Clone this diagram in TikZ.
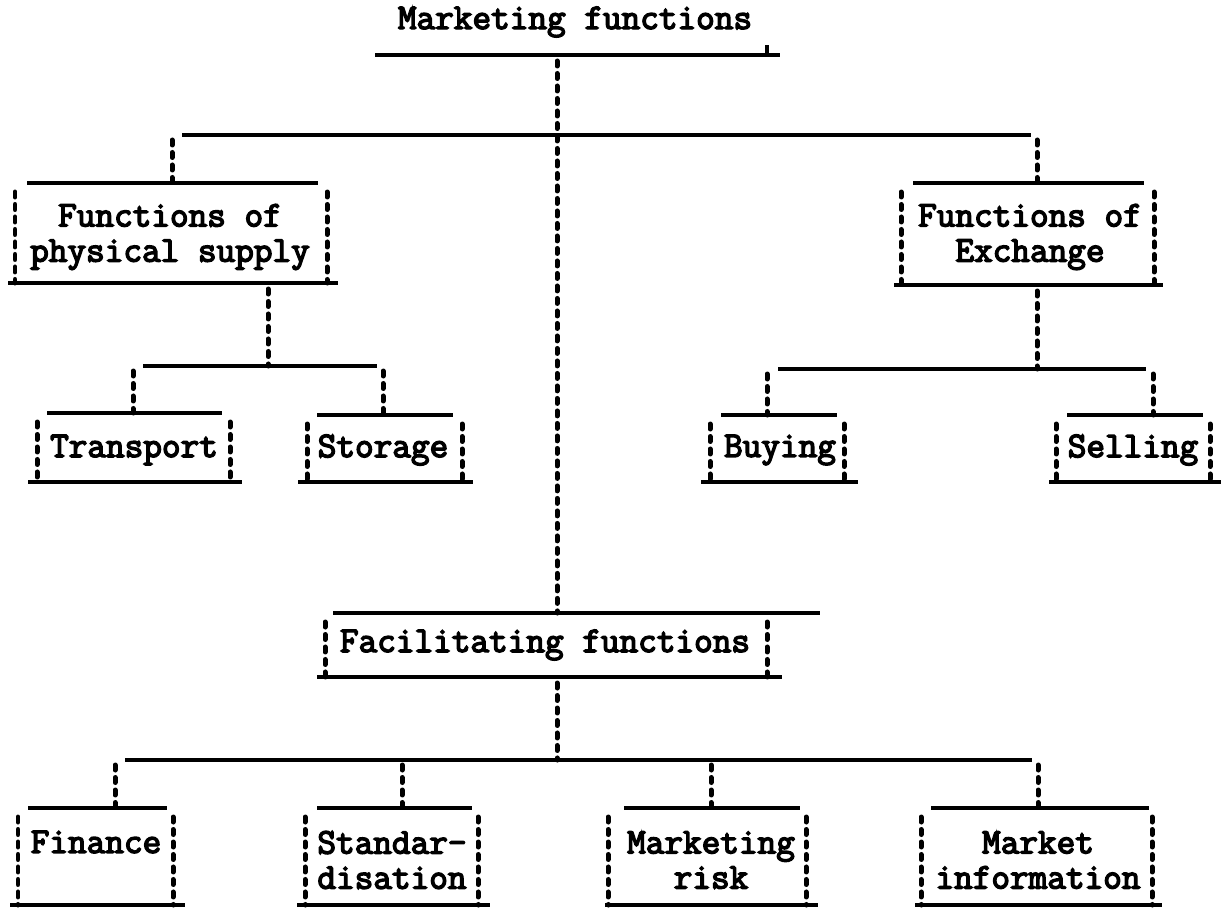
\documentclass[tikz,border=0pt]{standalone}
\usepackage{fontspec}
\newfontfamily\tw{Latin Modern Mono}[FakeBold=4]
\newcommand\twbox[9]{%
  \draw[rule] (#6,#4) -- (#7,#4);
  \draw[rule] (#8,#5) -- (#9,#5);
  \draw[tdash] (#2,#4+9) -- (#2,#5);
  \draw[tdash] (#3,#4+9) -- (#3,#5);
  \coordinate (#1-top) at ({(#6+#7)/2},#4);
  \coordinate (#1-bot) at ({(#8+#9)/2},#5);}
\begin{document}
\begin{tikzpicture}[x=0.02cm,y=-0.02cm,
  rule/.style={line width=0.085cm},
  tdash/.style={line width=0.1cm, line cap=round, dash pattern=on 0.1cm off 0.15cm},
  lbl/.style={font=\tw\fontsize{20.6}{20}\selectfont, align=center, inner sep=0pt}]
\useasboundingbox (0,0) rectangle (1221,909);

% title
\node[lbl] (title) at (575,22) {Marketing functions};
\draw[rule] (375,55) -- (780,55);
\draw[rule] (767,55) -- (767,45);

% boxes: name, L, R, T, B, topL, topR, botL, botR
\twbox{phys}{15}{327}{183}{283}{27}{318}{8}{338}
\twbox{exch}{901}{1154}{183}{285}{913}{1144}{894}{1163}
\twbox{trans}{37}{230}{413}{482}{47}{222}{28}{242}
\twbox{stor}{307}{462}{415}{482}{317}{453}{298}{473}
\twbox{buy}{710}{844}{415}{482}{721}{837}{701}{858}
\twbox{sell}{1056}{1210}{415}{482}{1067}{1203}{1049}{1221}
\twbox{facil}{325}{767}{613}{677}{333}{820}{317}{782}
\twbox{fin}{18}{173}{808}{905}{28}{167}{10}{185}
\twbox{std}{305}{478}{808}{905}{317}{472}{297}{490}
\twbox{risk}{608}{806}{808}{905}{624}{800}{605}{818}
\twbox{info}{921}{1152}{808}{905}{931}{1149}{915}{1162}

% labels
\node[lbl] (physT) at (170,237) {Functions of\\physical supply};
\node[lbl] (exchT) at (1030,237) {Functions of\\Exchange};
\node[lbl] (transT) at (134,450) {Transport};
\node[lbl] (storT) at (383,450) {Storage};
\node[lbl] (buyT) at (780,450) {Buying};
\node[lbl] (sellT) at (1133,450) {Selling};
\node[lbl] (facilT) at (545,645) {Facilitating functions};
\node[lbl] (finT) at (96,842) {Finance};
\node[lbl] (stdT) at (392,860) {Standar-\\disation};
\node[lbl] (riskT) at (711,860) {Marketing\\risk};
\node[lbl] (infoT) at (1038,860) {Market\\information};

% connector junctions
\coordinate (j0) at (557,61);
\coordinate (f0) at (557,613);
\coordinate (h1a) at (182,135); \coordinate (h1b) at (1031,135);
\coordinate (d1a) at (172,140); \coordinate (p1a) at (172,183);
\coordinate (d1b) at (1037,140); \coordinate (p1b) at (1037,183);

\coordinate (ps0) at (268,289); \coordinate (ps1) at (268,366);
\coordinate (h2a) at (143,366); \coordinate (h2b) at (377,366);
\coordinate (d2a) at (133,371); \coordinate (p2a) at (133,413);
\coordinate (d2b) at (383,371); \coordinate (p2b) at (383,415);

\coordinate (ex0) at (1037,291); \coordinate (ex1) at (1037,369);
\coordinate (h3a) at (778,369); \coordinate (h3b) at (1146,369);
\coordinate (d3a) at (767,374); \coordinate (p3a) at (767,415);
\coordinate (d3b) at (1153,374); \coordinate (p3b) at (1153,415);

\coordinate (fa0) at (557,683); \coordinate (fa1) at (557,760);
\coordinate (h4a) at (125,760); \coordinate (h4b) at (1032,760);
\coordinate (d4a) at (115,765); \coordinate (p4a) at (115,808);
\coordinate (d4b) at (402,765); \coordinate (p4b) at (402,808);
\coordinate (d4c) at (711,765); \coordinate (p4c) at (711,808);
\coordinate (d4d) at (1038,765); \coordinate (p4d) at (1038,808);

% connectors
\draw[tdash] (j0) -- (f0);
\draw[rule] (h1a) -- (h1b);
\draw[tdash] (d1a) -- (p1a);
\draw[tdash] (d1b) -- (p1b);

\draw[tdash] (ps0) -- (ps1);
\draw[rule] (h2a) -- (h2b);
\draw[tdash] (d2a) -- (p2a);
\draw[tdash] (d2b) -- (p2b);

\draw[tdash] (ex0) -- (ex1);
\draw[rule] (h3a) -- (h3b);
\draw[tdash] (d3a) -- (p3a);
\draw[tdash] (d3b) -- (p3b);

\draw[tdash] (fa0) -- (fa1);
\draw[rule] (h4a) -- (h4b);
\draw[tdash] (d4a) -- (p4a);
\draw[tdash] (d4b) -- (p4b);
\draw[tdash] (d4c) -- (p4c);
\draw[tdash] (d4d) -- (p4d);
\end{tikzpicture}
\end{document}
